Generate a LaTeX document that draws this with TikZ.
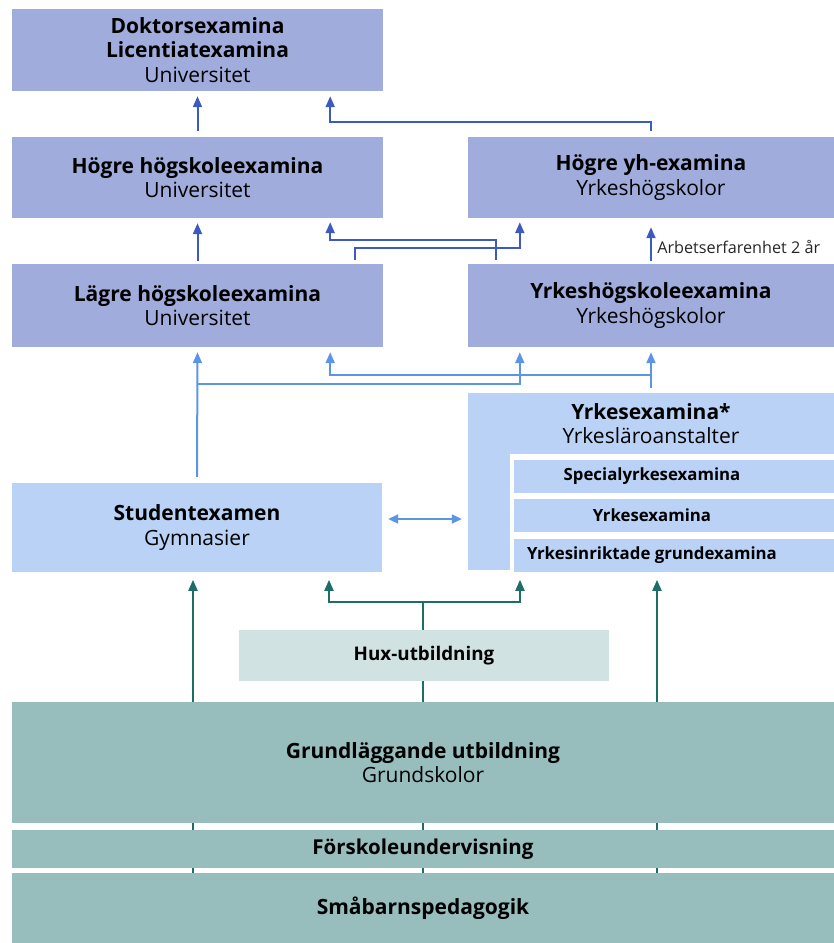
\documentclass[tikz,border=0pt]{standalone}
\usepackage{fontspec}
\setmainfont{Open Sans}
\usetikzlibrary{calc,arrows.meta,backgrounds}

\definecolor{unifill}{HTML}{A0ACDC}
\definecolor{gymfill}{HTML}{B9D2F6}
\definecolor{basefill}{HTML}{97BDBD}
\definecolor{huxfill}{HTML}{D1E2E2}
\definecolor{unicol}{HTML}{3D5BBE}
\definecolor{gymcol}{HTML}{5A95E6}
\definecolor{basecol}{HTML}{1E6E66}

\begin{document}
\begin{tikzpicture}[x=1pt,y=-1pt,
    box/.style={inner sep=0pt,align=center,text=black,font=\fontsize{21}{24.5}\selectfont},
    uni/.style={box,fill=unifill,minimum width=371pt},
    yh/.style={box,fill=unifill,minimum width=366pt},
    gym/.style={box,fill=gymfill},
    sub/.style={fill=gymfill,inner sep=0pt,minimum width=320pt,minimum height=33pt},
    subtext/.style={inner sep=0pt,font=\fontsize{16.8}{18}\selectfont\bfseries},
    base/.style={box,fill=basefill,minimum width=822pt},
    head/.style={-{Triangle[length=11pt,width=9pt]}},
    uniline/.style={draw=unicol,line width=2pt},
    gymline/.style={draw=gymcol,line width=2pt},
    baseline/.style={draw=basecol,line width=2pt}]
\useasboundingbox (0,0) rectangle (834,943);

% universitet och yrkeshogskolor
\node[uni,minimum height=82pt] (dok) at (197.5,50) {\textbf{Doktorsexamina}\\\textbf{Licentiatexamina}\\Universitet};
\node[uni,minimum height=81pt] (hhs) at (197.5,177.5) {\textbf{Högre högskoleexamina}\\Universitet};
\node[yh,minimum height=81pt] (hyh) at (651,177.5) {\textbf{Högre yh-examina}\\Yrkeshögskolor};
\node[uni,minimum height=83pt] (lhs) at (197.5,305.5) {\textbf{Lägre högskoleexamina}\\Universitet};
\node[yh,minimum height=83pt] (yhs) at (651,305.5) {\textbf{Yrkeshögskoleexamina}\\Yrkeshögskolor};

% andra stadiet
\node[gym,minimum width=42pt,minimum height=177pt] (yrkl) at (489,481.5) {};
\node[gym,minimum width=366pt,minimum height=61pt] (yrk) at (651,423.5) {\textbf{Yrkesexamina*}\\Yrkesläroanstalter};
\foreach \name/\y/\txt in {spec/476.5/Specialyrkesexamina,yex/515.5/Yrkesexamina,ygr/555.5/Yrkesinriktade grundexamina}
    \node[sub,label={[subtext,xshift=-22pt]center:\txt}] (\name) at (674,\y) {};
\node[gym,minimum width=370pt,minimum height=89pt] (stud) at (197,527.5) {\textbf{Studentexamen}\\Gymnasier};

% grundniva
\node[box,fill=huxfill,minimum width=370pt,minimum height=51pt,font=\fontsize{18.8}{20}\selectfont\bfseries] (hux) at (424,655.5) {Hux-utbildning};
\node[base,minimum height=121pt] (grund) at (423,762.5) {\textbf{Grundläggande utbildning}\\Grundskolor};
\node[base,minimum height=38pt,font=\fontsize{20.5}{24}\selectfont\bfseries] (forsk) at (423,849) {Förskoleundervisning};
\node[base,minimum height=70pt,font=\fontsize{21}{24}\selectfont\bfseries] (smab) at (423,908) {Småbarnspedagogik};

\draw[uniline,head] ([yshift=6pt]hhs.north) -- ([yshift=-5pt]dok.south);
\draw[uniline,head] ([yshift=6pt]hyh.north) -- ++(0,-9) -| ([xshift=-53pt,yshift=-5pt]dok.south east);
\draw[uniline,head] ([yshift=3pt]lhs.north) -- ([yshift=-5pt]hhs.south);
\draw[uniline,head] ([xshift=28pt,yshift=4pt]yhs.north west) -- ++(0,-20) -| ([xshift=-53pt,yshift=-4pt]hhs.south east);
\draw[uniline,head] ([xshift=-28pt,yshift=4pt]lhs.north east) -- ++(0,-12) -| ([xshift=52pt,yshift=-4pt]hyh.south west);
\draw[uniline,head] ([yshift=3pt]yhs.north) -- node[right,xshift=2pt,yshift=-3pt,text=black!85,font=\fontsize{16.2}{18}\selectfont] (arb) {Arbetserfarenhet 2 år} ([yshift=-9pt]hyh.south);

\coordinate (j1) at (197,384);
\coordinate (j2) at (651,375);
\draw[gymline,head] ([yshift=6pt]stud.north) -- ([yshift=-5pt]lhs.south);
\draw[gymline,head] (j1) -| ([xshift=52pt,yshift=-5pt]yhs.south west);
\draw[gymline,head] ([yshift=5pt]yrk.north) -- ([yshift=-5pt]yhs.south);
\draw[gymline,head] (j2) -| ([xshift=-53pt,yshift=-5pt]lhs.south east);
\draw[gymline,{Triangle[length=10pt,width=9pt]}-{Triangle[length=10pt,width=9pt]}] ($(stud.east)+(6,-8.5)$) -- ($(stud.east -| yrkl.west)+(-6,-8.5)$);

\begin{pgfonlayer}{background}
\draw[baseline,head] ([xshift=-230pt]smab.north) -- ++(0,-293);
\draw[baseline] (smab.north) -- ++(0,-271) coordinate (j3);
\draw[baseline,{Triangle[length=11pt,width=9pt]}-{Triangle[length=11pt,width=9pt]}] ([xshift=-94pt,yshift=22pt]j3) |- (j3) -| ([xshift=97pt,yshift=22pt]j3);
\draw[baseline,head] ([xshift=234pt]smab.north) -- ++(0,-293);
\end{pgfonlayer}
\end{tikzpicture}
\end{document}
